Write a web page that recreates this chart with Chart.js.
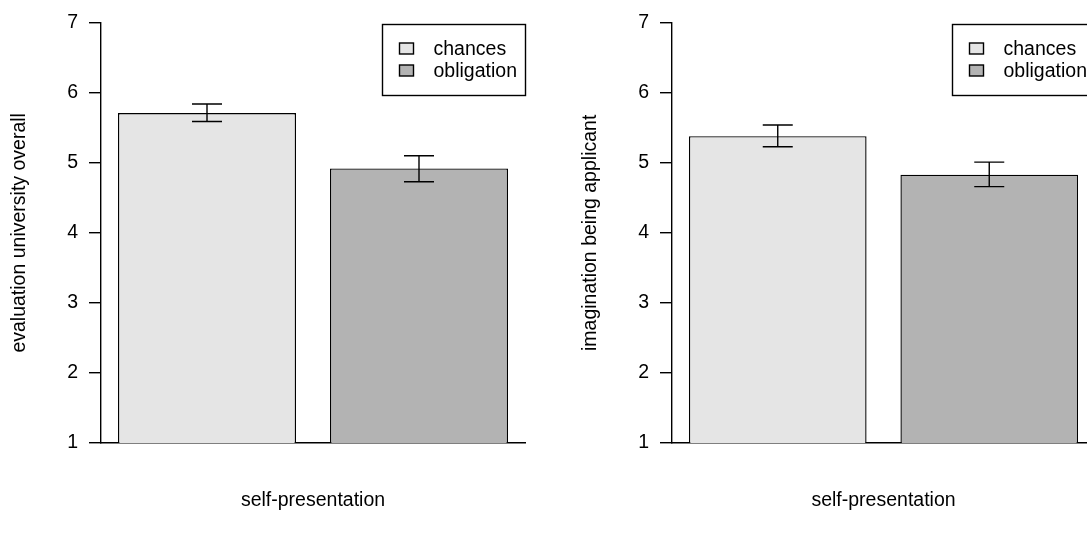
<!DOCTYPE html>
<html>
<head>
<meta charset="utf-8">
<title>Self-presentation ratings</title>
<script src="https://cdn.jsdelivr.net/npm/chart.js@4.4.1/dist/chart.umd.min.js"></script>
<style>
    html, body { margin: 0; padding: 0; background: #fff; overflow: hidden; width: 1087px; height: 538px; }
    canvas { position: absolute; top: 0; }
    #evalChart { left: 0; }
    #imagChart { left: 571px; }
</style>
</head>
<body>
<canvas id="evalChart" width="543" height="538"></canvas>
<canvas id="imagChart" width="542" height="538"></canvas>
<script>
// Group and condition labels
const groups = ['self-presentation'];
const conditions = ['chances', 'obligation'];
const fills = ['#e5e5e5', '#b3b3b3'];

// Evaluation of the university overall: means with error bar limits
const evalMeans = [5.71, 4.92];
const evalLower = [5.59, 4.73];
const evalUpper = [5.84, 5.10];

// Imagination of being an applicant
const imagMeans = [5.38, 4.83];
const imagLower = [5.23, 4.66];
const imagUpper = [5.54, 5.01];

const FONT = "'Liberation Sans', Arial, Helvetica, sans-serif";
const FONT_SIZE = 19.5;
const LINE_W = 1.4;

Chart.defaults.font.family = FONT;
Chart.defaults.font.size = FONT_SIZE;
Chart.defaults.color = '#000';

// Draws error bars on top of each bar using the y scale
const errorBarPlugin = {
    id: 'errorBars',
    afterDatasetsDraw(chart, args, opts) {
        const ctx = chart.ctx;
        const y = chart.scales.y;
        ctx.save();
        ctx.strokeStyle = '#000';
        ctx.lineWidth = LINE_W;
        chart.data.datasets.forEach((ds, i) => {
            const bar = chart.getDatasetMeta(i).data[0];
            const x = bar.x;
            const top = y.getPixelForValue(opts.upper[i]);
            const bottom = y.getPixelForValue(opts.lower[i]);
            const half = 15;
            ctx.beginPath();
            ctx.moveTo(x, top);
            ctx.lineTo(x, bottom);
            ctx.moveTo(x - half, top);
            ctx.lineTo(x + half, top);
            ctx.moveTo(x - half, bottom);
            ctx.lineTo(x + half, bottom);
            ctx.stroke();
        });
        ctx.restore();
    }
};

// Boxed legend in the top right corner of the plot area
const boxLegendPlugin = {
    id: 'boxLegend',
    afterDraw(chart) {
        const ctx = chart.ctx;
        const area = chart.chartArea;
        ctx.save();
        ctx.font = FONT_SIZE + 'px ' + FONT;
        const textW = Math.max(...chart.data.datasets.map(ds => ctx.measureText(ds.label).width));
        const w = Math.round(51 + textW + 9);
        const h = 71;
        const left = Math.round(area.right) - w + 0.5;
        const top = Math.round(area.top) + 1.5;
        ctx.fillStyle = '#fff';
        ctx.fillRect(left, top, w, h);
        ctx.strokeStyle = '#000';
        ctx.lineWidth = LINE_W;
        ctx.strokeRect(left, top, w, h);
        ctx.textBaseline = 'middle';
        ctx.textAlign = 'left';
        chart.data.datasets.forEach((ds, i) => {
            const cy = top + 24 + i * 22;
            ctx.fillStyle = ds.backgroundColor;
            ctx.fillRect(left + 17, cy - 5.5, 14, 11);
            ctx.strokeStyle = '#000';
            ctx.strokeRect(left + 17, cy - 5.5, 14, 11);
            ctx.fillStyle = '#000';
            ctx.fillText(ds.label, left + 51, cy + 1);
        });
        ctx.restore();
    }
};

function makeBarChart(canvasId, yTitle, means, lower, upper) {
    const ctx = document.getElementById(canvasId).getContext('2d');
    return new Chart(ctx, {
        type: 'bar',
        data: {
            labels: groups,
            datasets: conditions.map((name, i) => ({
                label: name,
                data: [means[i]],
                backgroundColor: fills[i],
                borderColor: '#000',
                borderWidth: LINE_W,
                categoryPercentage: 1.0,
                barPercentage: 0.84
            }))
        },
        options: {
            responsive: false,
            animation: false,
            layout: {
                padding: { top: 20, right: 18, bottom: 0, left: 0 }
            },
            plugins: {
                legend: { display: false },
                tooltip: { enabled: false },
                errorBars: { lower: lower, upper: upper }
            },
            scales: {
                x: {
                    type: 'category',
                    grid: { display: false, drawTicks: false },
                    border: { display: true, color: '#000', width: LINE_W },
                    ticks: { padding: 46, color: '#000' },
                    afterFit(scale) { scale.height = 95; }
                },
                y: {
                    min: 1,
                    max: 7,
                    ticks: { stepSize: 1, padding: 11, color: '#000' },
                    grid: {
                        drawOnChartArea: false,
                        drawTicks: true,
                        tickLength: 12,
                        color: '#000',
                        lineWidth: LINE_W
                    },
                    border: { display: true, color: '#000', width: LINE_W },
                    title: {
                        display: true,
                        text: yTitle,
                        color: '#000',
                        padding: { top: 8, bottom: 0 }
                    },
                    afterFit(scale) { scale.width = 101; }
                }
            }
        },
        plugins: [errorBarPlugin, boxLegendPlugin]
    });
}

makeBarChart('evalChart', 'evaluation university overall', evalMeans, evalLower, evalUpper);
makeBarChart('imagChart', 'imagination being applicant', imagMeans, imagLower, imagUpper);
</script>
</body>
</html>
